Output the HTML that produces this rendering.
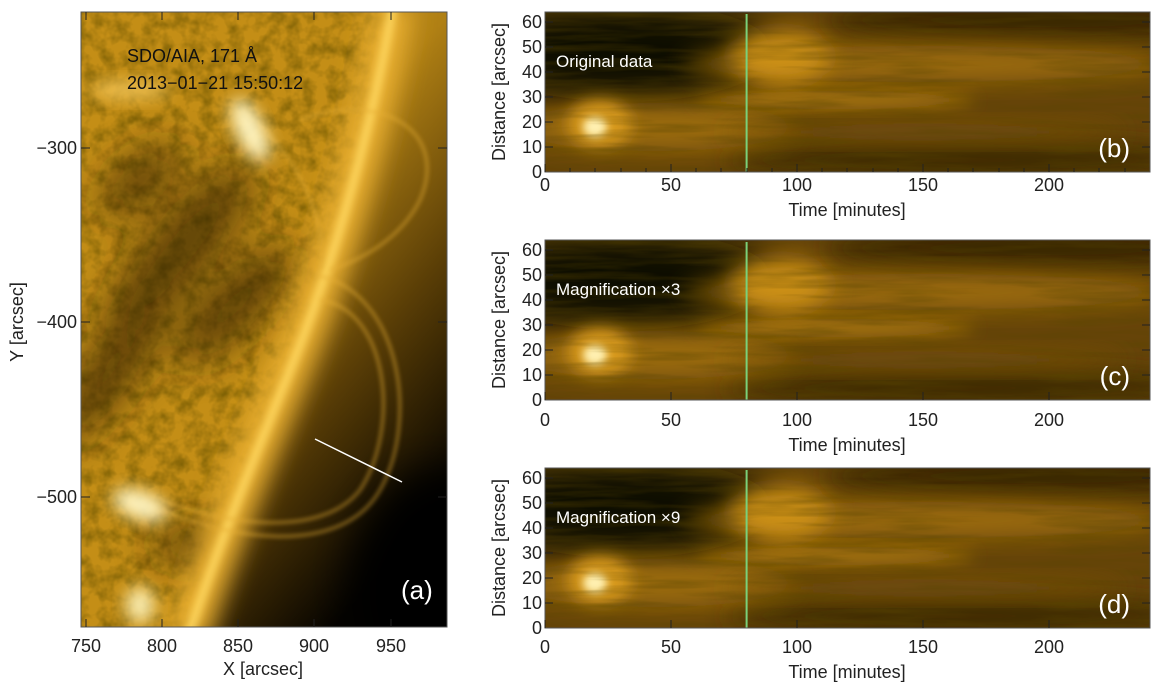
<!DOCTYPE html>
<html><head><meta charset="utf-8"><style>
html,body{margin:0;padding:0;background:#fff;}
svg{display:block;font-family:"Liberation Sans",sans-serif;}
</style></head><body>
<svg width="1169" height="683" viewBox="0 0 1169 683" xmlns="http://www.w3.org/2000/svg">
<defs>
<clipPath id="ca"><rect x="81" y="12" width="366" height="615"/></clipPath>
<clipPath id="cp"><rect x="0" y="0" width="605" height="160"/></clipPath>
<filter id="b4" x="-50%" y="-50%" width="200%" height="200%"><feGaussianBlur stdDeviation="4"/></filter>
<filter id="b8" x="-50%" y="-50%" width="200%" height="200%"><feGaussianBlur stdDeviation="8"/></filter>
<filter id="b12" x="-50%" y="-50%" width="200%" height="200%"><feGaussianBlur stdDeviation="12"/></filter>
<filter id="b20" x="-50%" y="-50%" width="200%" height="200%"><feGaussianBlur stdDeviation="20"/></filter>
<filter id="b2" x="-50%" y="-50%" width="200%" height="200%"><feGaussianBlur stdDeviation="2"/></filter>
<filter id="mottle" x="0" y="0" width="100%" height="100%">
 <feTurbulence type="fractalNoise" baseFrequency="0.07" numOctaves="3" seed="5"/>
 <feColorMatrix type="matrix" values="0 0 0 0 0.15  0 0 0 0 0.09  0 0 0 0 0  1.4 0 0 0 -0.5"/>
</filter>
<filter id="streak" x="0" y="0" width="100%" height="100%">
 <feTurbulence type="fractalNoise" baseFrequency="0.01 0.12" numOctaves="3" seed="8"/>
 <feColorMatrix type="matrix" values="0 0 0 0 0.1  0 0 0 0 0.06  0 0 0 0 0  1.0 0 0 0 -0.4"/>
</filter>
<linearGradient id="offlimb" x1="0" y1="0" x2="0.5" y2="1">
 <stop offset="0" stop-color="#d8a228"/><stop offset="0.4" stop-color="#b08014"/><stop offset="0.7" stop-color="#5a3e06"/><stop offset="1" stop-color="#050300"/>
</linearGradient>
<g id="heat">
 <rect x="0" y="0" width="605" height="160" fill="#664408"/>
 <ellipse cx="80" cy="40" rx="150" ry="50" fill="#0c0800" filter="url(#b20)"/>
 <ellipse cx="500" cy="8" rx="220" ry="22" fill="#3a2602" filter="url(#b12)"/>
 <ellipse cx="420" cy="148" rx="240" ry="18" fill="#3e2a04" filter="url(#b12)"/>
 <ellipse cx="110" cy="115" rx="140" ry="24" fill="#9a6a0c" filter="url(#b12)"/>
 <ellipse cx="380" cy="52" rx="240" ry="18" fill="#9c6c10" filter="url(#b12)"/>
 <ellipse cx="290" cy="88" rx="140" ry="9" fill="#a87610" filter="url(#b8)"/>
 <ellipse cx="380" cy="120" rx="200" ry="10" fill="#74500a" filter="url(#b12)"/>
 <ellipse cx="235" cy="45" rx="50" ry="26" fill="#cc9018" filter="url(#b12)"/>
 <ellipse cx="55" cy="112" rx="32" ry="24" fill="#d89a1c" filter="url(#b8)"/>
 <ellipse cx="50" cy="115" rx="12" ry="10" fill="#fff0b0" filter="url(#b4)"/>
 <rect x="0" y="0" width="605" height="160" filter="url(#streak)"/>
</g>
</defs>

<!-- Panel a -->
<g clip-path="url(#ca)">
 <rect x="81" y="12" width="366" height="615" fill="#c48e16"/>
 <rect x="81" y="12" width="366" height="615" filter="url(#mottle)"/>
 <g fill="#2e1e00" filter="url(#b20)" opacity="0.7">
  <ellipse cx="180" cy="250" rx="110" ry="30" transform="rotate(-50 180 250)"/>
  <ellipse cx="235" cy="305" rx="80" ry="26" transform="rotate(-45 235 305)"/>
  <ellipse cx="110" cy="370" rx="90" ry="25" transform="rotate(-55 110 370)"/>
  <ellipse cx="140" cy="180" rx="50" ry="22" transform="rotate(-40 140 180)"/>
  <ellipse cx="200" cy="545" rx="50" ry="20"/>
 </g>
 <path d="M393,0 C375,110 345,220 320,290 C290,380 240,480 187,640 L460,640 L460,0 Z" fill="url(#offlimb)"/>
 <ellipse cx="440" cy="590" rx="90" ry="120" fill="#000" filter="url(#b20)"/>
 <path d="M393,5 C375,110 345,220 320,290 C290,380 240,480 187,640" fill="none" stroke="#eab030" stroke-width="40" filter="url(#b12)"/>
 <path d="M393,5 C375,110 345,220 320,290 C290,380 240,480 187,640" fill="none" stroke="#ffd860" stroke-width="8" filter="url(#b4)"/>
 <g fill="none" stroke="#e6ae34" stroke-width="3" opacity="0.55" filter="url(#b2)">
  <path d="M315,275 C400,290 420,420 380,490 C340,560 220,540 140,500"/>
  <path d="M320,300 C390,310 400,430 360,490 C320,540 220,525 150,495"/>
  <path d="M300,120 C380,90 450,130 420,200 C400,240 360,260 330,270"/>
  <path d="M240,110 C300,150 330,230 320,270"/>
 </g>
 <ellipse cx="250" cy="130" rx="14" ry="34" fill="#fff4c0" transform="rotate(-25 250 130)" filter="url(#b8)"/>
 <ellipse cx="140" cy="505" rx="28" ry="14" fill="#fff4c0" transform="rotate(20 140 505)" filter="url(#b8)"/>
 <ellipse cx="140" cy="605" rx="14" ry="18" fill="#fff0b0" filter="url(#b8)"/>
 <ellipse cx="130" cy="90" rx="40" ry="10" fill="#f0c050" filter="url(#b8)"/>
 <line x1="315" y1="439" x2="402" y2="482" stroke="#fff" stroke-width="1.5"/>
 <text x="127" y="62" font-size="18" fill="#111">SDO/AIA, 171 Å</text>
 <text x="127" y="89" font-size="18" fill="#111">2013−01−21 15:50:12</text>
 <text x="401" y="599" font-size="26" fill="#fff">(a)</text>
</g>
<rect x="81" y="12" width="366" height="615" fill="none" stroke="#555" stroke-width="1"/>
<g stroke="#222" stroke-width="1">
 <path d="M86,627v-8M162,627v-8M238,627v-8M314,627v-8M391,627v-8M86,12v8M162,12v8M238,12v8M314,12v8M391,12v8"/>
 <path d="M81,148h9M81,322h9M81,497h9M447,148h-9M447,322h-9M447,497h-9"/>
</g>
<g font-size="18" fill="#222" text-anchor="middle">
 <text x="86" y="652">750</text><text x="162" y="652">800</text><text x="238" y="652">850</text><text x="314" y="652">900</text><text x="391" y="652">950</text>
 <text x="263" y="675">X [arcsec]</text>
</g>
<g font-size="18" fill="#222" text-anchor="end">
 <text x="77" y="154">−300</text><text x="77" y="328">−400</text><text x="77" y="503">−500</text>
</g>
<text transform="translate(23,322) rotate(-90)" font-size="18" fill="#222" text-anchor="middle">Y [arcsec]</text>

<!-- Right panels -->
<g transform="translate(545,12)">
 <g clip-path="url(#cp)"><use href="#heat"/></g>
 <line x1="201.6" y1="2" x2="201.6" y2="160" stroke="#7ad07a" stroke-width="2"/>
 <rect x="0" y="0" width="605" height="160" fill="none" stroke="#555"/>
 <g stroke="#222"><path d="M0,160v-8M126,160v-8M252,160v-8M378,160v-8M504,160v-8M25,160v-4M50,160v-4M76,160v-4M101,160v-4M151,160v-4M176,160v-4M202,160v-4M227,160v-4M277,160v-4M302,160v-4M328,160v-4M353,160v-4M403,160v-4M428,160v-4M454,160v-4M479,160v-4M529,160v-4M554,160v-4M580,160v-4M0,135h8M0,110h8M0,85h8M0,60h8M0,35h8M0,10h8M605,135h-8M605,110h-8M605,85h-8M605,60h-8M605,35h-8M605,10h-8"/></g>
 <g font-size="18" fill="#222" text-anchor="middle"><text x="0" y="179">0</text><text x="126" y="179">50</text><text x="252" y="179">100</text><text x="378" y="179">150</text><text x="504" y="179">200</text><text x="302" y="204">Time [minutes]</text></g>
 <g font-size="18" fill="#222" text-anchor="end"><text x="-3" y="166">0</text><text x="-3" y="141">10</text><text x="-3" y="116">20</text><text x="-3" y="91">30</text><text x="-3" y="66">40</text><text x="-3" y="41">50</text><text x="-3" y="16">60</text></g>
 <text transform="translate(-40,80) rotate(-90)" font-size="18" fill="#222" text-anchor="middle">Distance [arcsec]</text>
 <text x="11" y="55" font-size="17" fill="#fff">Original data</text>
 <text x="585" y="145" font-size="26" fill="#fff" text-anchor="end">(b)</text>
</g>
<g transform="translate(545,240)">
 <g clip-path="url(#cp)"><use href="#heat"/></g>
 <line x1="201.6" y1="2" x2="201.6" y2="160" stroke="#7ad07a" stroke-width="2"/>
 <rect x="0" y="0" width="605" height="160" fill="none" stroke="#555"/>
 <g stroke="#222"><path d="M0,160v-8M126,160v-8M252,160v-8M378,160v-8M504,160v-8M0,135h8M0,110h8M0,85h8M0,60h8M0,35h8M0,10h8M605,135h-8M605,110h-8M605,85h-8M605,60h-8M605,35h-8M605,10h-8"/></g>
 <g font-size="18" fill="#222" text-anchor="middle"><text x="0" y="186">0</text><text x="126" y="186">50</text><text x="252" y="186">100</text><text x="378" y="186">150</text><text x="504" y="186">200</text><text x="302" y="211">Time [minutes]</text></g>
 <g font-size="18" fill="#222" text-anchor="end"><text x="-3" y="166">0</text><text x="-3" y="141">10</text><text x="-3" y="116">20</text><text x="-3" y="91">30</text><text x="-3" y="66">40</text><text x="-3" y="41">50</text><text x="-3" y="16">60</text></g>
 <text transform="translate(-40,80) rotate(-90)" font-size="18" fill="#222" text-anchor="middle">Distance [arcsec]</text>
 <text x="11" y="55" font-size="17" fill="#fff">Magnification ×3</text>
 <text x="585" y="145" font-size="26" fill="#fff" text-anchor="end">(c)</text>
</g>
<g transform="translate(545,468)">
 <g clip-path="url(#cp)"><use href="#heat"/></g>
 <line x1="201.6" y1="2" x2="201.6" y2="160" stroke="#7ad07a" stroke-width="2"/>
 <rect x="0" y="0" width="605" height="160" fill="none" stroke="#555"/>
 <g stroke="#222"><path d="M0,160v-8M126,160v-8M252,160v-8M378,160v-8M504,160v-8M0,135h8M0,110h8M0,85h8M0,60h8M0,35h8M0,10h8M605,135h-8M605,110h-8M605,85h-8M605,60h-8M605,35h-8M605,10h-8"/></g>
 <g font-size="18" fill="#222" text-anchor="middle"><text x="0" y="185">0</text><text x="126" y="185">50</text><text x="252" y="185">100</text><text x="378" y="185">150</text><text x="504" y="185">200</text><text x="302" y="210">Time [minutes]</text></g>
 <g font-size="18" fill="#222" text-anchor="end"><text x="-3" y="166">0</text><text x="-3" y="141">10</text><text x="-3" y="116">20</text><text x="-3" y="91">30</text><text x="-3" y="66">40</text><text x="-3" y="41">50</text><text x="-3" y="16">60</text></g>
 <text transform="translate(-40,80) rotate(-90)" font-size="18" fill="#222" text-anchor="middle">Distance [arcsec]</text>
 <text x="11" y="55" font-size="17" fill="#fff">Magnification ×9</text>
 <text x="585" y="145" font-size="26" fill="#fff" text-anchor="end">(d)</text>
</g>
</svg>
</body></html>
